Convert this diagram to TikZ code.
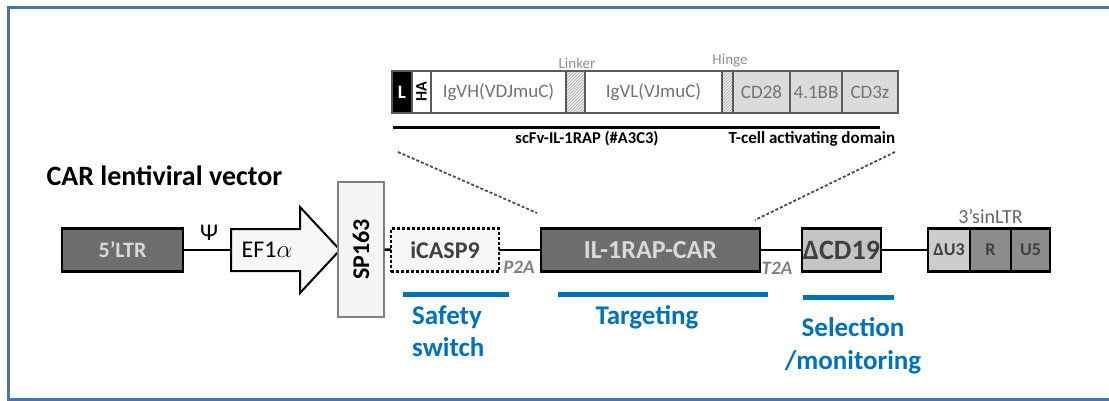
\documentclass[tikz,border=0pt]{standalone}
\usepackage{fontspec}
\setmainfont{Carlito}
\usetikzlibrary{positioning,patterns}
\definecolor{framecol}{HTML}{4A74A8}
\definecolor{bluelab}{HTML}{0070C0}
\definecolor{darkfill}{HTML}{6E6E6E}
\definecolor{midfill}{HTML}{8C8C8C}
\definecolor{lightfill}{HTML}{C4C4C4}
\definecolor{barline}{HTML}{5A5A5A}
\newcommand{\fsz}[1]{\fontsize{#1}{#1}\selectfont}
\begin{document}
\begin{tikzpicture}[x=1pt,y=-1pt]
  \tikzstyle{element}=[draw=black, line width=2.6pt, minimum height=43pt, inner sep=0pt, outer sep=0pt, font=\fsz{24}\bfseries]
  \tikzstyle{darkelem}=[element, fill=darkfill, text=gray!30]
  \tikzstyle{ltrcell}=[element, minimum height=43pt, font=\fsz{18}\bfseries, text=black!75]
  \tikzstyle{cell}=[draw=barline, line width=1.8pt, minimum height=42pt, inner sep=0pt, outer sep=0pt, font=\fsz{19}, text=black!55]
  \tikzstyle{hatched}=[cell, preaction={fill=gray!12}, pattern=north east lines, pattern color=gray!70]
  \tikzstyle{note}=[font=\fsz{15}, text=black!45, inner sep=1pt]
  \tikzstyle{link}=[draw, line width=2.6pt]
  \tikzstyle{zoomline}=[draw=black!70, line width=1.8pt, dashed, dash pattern=on 3pt off 2pt]
  \tikzstyle{bluebar}=[fill=bluelab, minimum height=5pt, inner sep=0pt]
  \tikzstyle{bluetext}=[text=bluelab, font=\fsz{27}\bfseries, inner sep=0pt]
  \useasboundingbox (0,0) rectangle (1109,400);
  \draw[framecol, line width=3pt] (1200,7) -- (8,7) -- (8,399) -- (1200,399);

  \node[anchor=base west, font=\fsz{28}\bfseries] (title) at (43,185) {CAR lentiviral vector};

  \node[cell, fill=black, text=white, font=\fsz{19}\bfseries, minimum width=20pt] (lead) at (402,92) {L};
  \node[cell, fill=white, text=black, font=\fsz{16}\bfseries, minimum width=19pt, right=0pt of lead] (ha) {\rotatebox{90}{HA}};
  \node[cell, fill=white, minimum width=135pt, right=0pt of ha] (vh) {IgVH(VDJmuC)};
  \node[hatched, minimum width=19pt, right=0pt of vh] (linker) {};
  \node[cell, fill=white, minimum width=137pt, right=0pt of linker] (vl) {IgVL(VJmuC)};
  \node[hatched, minimum width=11pt, right=0pt of vl] (hinge) {};
  \node[cell, fill=gray!28, minimum width=57pt, right=0pt of hinge] (cd28) {CD28};
  \node[cell, fill=gray!28, minimum width=52pt, right=0pt of cd28] (bb) {4.1BB};
  \node[cell, fill=gray!28, minimum width=56pt, right=0pt of bb] (cd3z) {CD3z};
  \node[note, anchor=south] (linkerlab) at (577,70) {Linker};
  \node[note, anchor=south] (hingelab) at (730,68) {Hinge};
  \draw[line width=3pt] (393,127) -- (880,127);
  \node[font=\fsz{16.5}\bfseries] (scfv) at (587,139) {scFv-IL-1RAP (\#A3C3)};
  \node[font=\fsz{17}\bfseries] (tcell) at (812,139) {T-cell activating domain};

  \node[darkelem, minimum width=121pt, font=\fsz{22}\bfseries] (ltr5) at (122.5,250) {5’LTR};
  \node[font=\fsz{24}] (psi) at (209,233) {Ψ};
  \draw[line width=2pt, fill=gray!6] (231,229) -- (300,229) -- (300,207) -- (340,250)
    -- (300,293) -- (300,271) -- (231,271) -- cycle;
  \coordinate (ef1in) at (231,250);
  \node[font=\fsz{24}] (ef1a) at (267,250) {EF1$\alpha$};
  \node[draw=black!50, line width=1.2pt, fill=gray!8, minimum width=135pt, minimum height=46pt,
    inner sep=0pt, rotate=90, font=\fsz{24}\bfseries] (sp163) at (361,249.5) {SP163};
  \node[element, dashed, dash pattern=on 3pt off 2pt, fill=gray!6, text=black!75, minimum width=108pt] (icasp9) at (445,250) {iCASP9};
  \node[darkelem, minimum width=219pt, font=\fsz{26}\bfseries] (car) at (650.5,250) {IL-1RAP-CAR};
  \node[element, fill=lightfill, text=black!75, minimum width=79pt, font=\fsz{28}\bfseries] (dcd19) at (841.5,250) {ΔCD19};
  \node[ltrcell, fill=gray!40, minimum width=42pt] (du3) at (949,250) {ΔU3};
  \node[ltrcell, fill=midfill, minimum width=41pt, right=0pt of du3] (rr) {R};
  \node[ltrcell, fill=midfill, minimum width=39pt, right=0pt of rr] (u5) {U5};
  \node[font=\fsz{20}, text=black!60, above=1pt of rr] (ltr3) {3’sinLTR};

  \draw[link] (ltr5) -- (ef1in);
  \draw[link] (sp163) -- (icasp9);
  \draw[link] (icasp9) -- (car);
  \draw[link] (car) -- (dcd19);
  \draw[link] (dcd19) -- (du3);
  \node[font=\fsz{19}\bfseries\itshape, text=black!50] (p2a) at (519,267) {P2A};
  \node[font=\fsz{19}\bfseries\itshape, text=black!50] (t2a) at (777,268) {T2A};

  \coordinate (zoomleft) at (398,152);
  \coordinate (zoomright) at (895,152);
  \coordinate (carleft) at (537,213);
  \coordinate (carright) at (755,220);
  \draw[zoomline] (zoomleft) -- (carleft);
  \draw[zoomline] (zoomright) -- (carright);

  \node[bluebar, minimum width=106pt] (safebar) at (456,294) {};
  \node[bluebar, minimum width=210pt] (targbar) at (663,294) {};
  \node[bluebar, minimum width=91pt] (selbar) at (848.5,297) {};
  \node[bluetext, anchor=west] (safety) at (412,317) {Safety};
  \node[bluetext, anchor=west] (switch) at (412,347) {switch};
  \node[bluetext] (targeting) at (647,317) {Targeting};
  \node[bluetext] (selection) at (853,327) {Selection};
  \node[bluetext] (monitoring) at (853,362) {/monitoring};
\end{tikzpicture}
\end{document}
